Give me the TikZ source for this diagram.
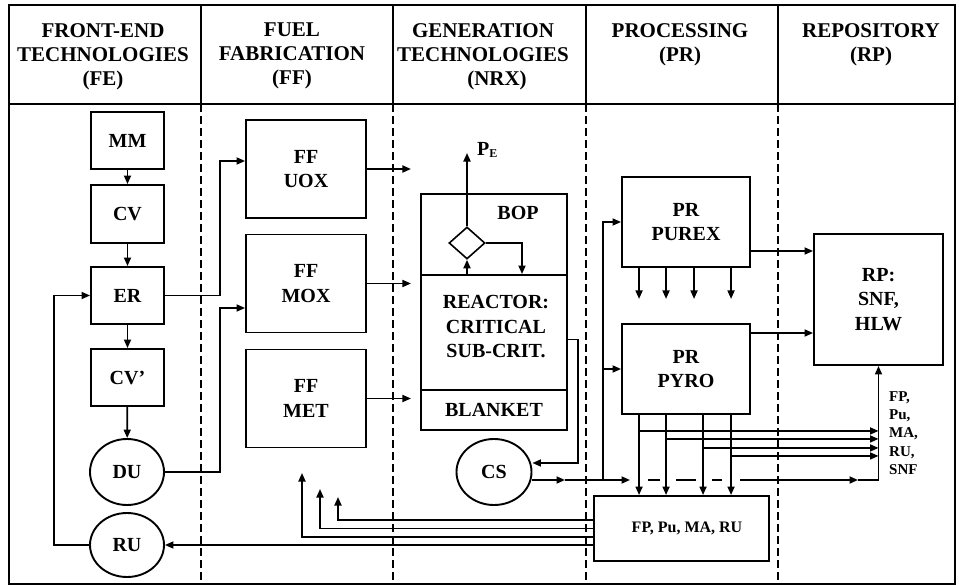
\documentclass[tikz,border=0pt]{standalone}
\usepackage{fontspec}
\setmainfont{Liberation Serif}
\usetikzlibrary{arrows.meta,shapes.geometric}

\tikzset{
  blk/.style={draw, line width=1.9pt, inner sep=0pt, align=center,
    font=\fontsize{20}{24.5}\selectfont\bfseries},
  febox/.style={blk, minimum width=73pt, minimum height=57pt},
  ffbox/.style={blk, minimum width=120pt, minimum height=98pt},
  prbox/.style={blk, minimum width=128pt, minimum height=90pt},
  ovl/.style={blk, ellipse, minimum width=74pt, minimum height=66pt},
  hdr/.style={anchor=north, inner sep=0pt, align=center,
    font=\fontsize{21}{24}\selectfont\bfseries},
  arr/.style={line width=1.7pt, -{Triangle[length=8.5pt,width=7pt]}},
  ln/.style={line width=1.7pt},
  sep/.style={line width=2pt, dash pattern=on 8pt off 4pt},
}

\begin{document}
\begin{tikzpicture}[x=1pt, y=-1pt]
        \useasboundingbox (0,0) rectangle (959,586);
        \draw[line width=1.8pt] (9,5) rectangle (955,584);
        \draw[line width=1.8pt] (9,104) -- (955,104);
        \foreach \x in {201,393,586,778} {
          \draw[line width=2pt] (\x,5) -- (\x,104);
          \draw[sep] (\x,104) -- (\x,584);
        }

        \node[hdr] (hfe) at (103,23) {FRONT-END\\TECHNOLOGIES\\(FE)};
        \node[hdr] (hff) at (292,23) {FUEL\\FABRICATION\\(FF)};
        \node[hdr] (hnrx) at (483,23) {GENERATION\\TECHNOLOGIES\\\hspace*{28pt}(NRX)};
        \node[hdr] (hpr) at (680,23) {PROCESSING\\(PR)};
        \node[hdr] (hrp) at (871,23) {REPOSITORY\\(RP)};

        \node[febox] (mm) at (127.5,140.5) {MM};
        \node[febox, minimum height=58pt] (cv) at (127.5,214) {CV};
        \node[febox] (er) at (127.5,295.5) {ER};
        \node[febox] (cvp) at (127.5,377.5) {CV’};
        \node[ovl] (du) at (127,472) {DU};
        \node[ovl, minimum height=64pt] (ru) at (127,545) {RU};

        \node[ffbox] (uox) at (306,169) {FF\\UOX};
        \node[ffbox] (mox) at (306,283.5) {FF\\MOX};
        \node[ffbox] (met) at (306,398.5) {FF\\MET};

        \node[blk, minimum width=146pt, minimum height=81pt] (bop) at (494,234.5) {};
        \node[blk, minimum width=146pt, minimum height=115pt] (reac) at (494,332.5) {};
        \node[blk, minimum width=146pt, minimum height=40pt] (blnk) at (494,410) {BLANKET};
        \node[font=\fontsize{20}{24.5}\selectfont\bfseries, align=center, inner sep=0pt] (reaclbl) at (496,327) {REACTOR:\\CRITICAL\\SUB-CRIT.};
        \node[font=\fontsize{20}{24}\selectfont\bfseries, inner sep=0pt] (boplbl) at (518,213) {BOP};
        \node[draw, diamond, line width=1.6pt, minimum width=36pt, minimum height=32pt, inner sep=0pt] (dia) at (467,243) {};
        \coordinate (pe) at (467,153);
        \node[anchor=base west, inner sep=0pt, font=\fontsize{20}{24}\selectfont\bfseries] (pelbl) at (477,155) {P\raisebox{-2.5pt}{\fontsize{12}{12}\selectfont E}};
        \node[ovl, minimum width=75pt] (cs) at (494,472) {CS};

        \node[prbox] (purex) at (686,222) {PR\\PUREX};
        \node[prbox] (pyro) at (686,369) {PR\\PYRO};
        \node[blk, minimum width=129pt, minimum height=131pt] (rp) at (878.5,299.5) {RP:\\SNF,\\HLW};
        \node[blk, minimum width=175pt, minimum height=65pt] (fp) at (681.5,528.5) {};
        \node[font=\fontsize{16}{19}\selectfont\bfseries, inner sep=0pt] (fplbl) at (687,528) {FP, Pu, MA, RU};
        \node[anchor=west, inner sep=0pt, align=left, font=\fontsize{15}{18.3}\selectfont\bfseries] (outs) at (889,433) {FP,\\Pu,\\MA,\\RU,\\SNF};

        \draw[arr] (mm) -- (cv);
        \draw[arr] (cv) -- (er);
        \draw[arr] (er) -- (cvp);
        \draw[arr] (cvp) -- (du);
        \draw[arr] (ru.west) -- ++(-35,0) |- (er.west);
        \draw[arr] (er.east) -- ++(55,0) |- ([yshift=8pt]uox.west);
        \draw[arr] (du.east) -- ++(55,0) |- ([yshift=-24.5pt]mox.west);

        \draw[arr] (uox.east) -- ++(44,0);
        \draw[arr] (mox.east) -- ++(44,0);
        \draw[arr] (met.east) -- ++(44,0);

        \draw[arr] (reac.north -| dia) -- (dia.south);
        \draw[arr] (dia.north) -- (pe);
        \draw[arr] (dia.east) -| ([xshift=28pt]reac.north);
        \draw[arr] ([yshift=-7pt]reac.east) -- ++(10,0) |- ([yshift=9pt]cs.east);

        \coordinate (jn) at (603,480);
        \draw[arr] ([yshift=-8pt]cs.east) -- (565,480);
        \draw[ln] (565,480) -- (jn);
        \draw[arr] (jn) -- (630,480);
        \draw[arr] (jn) |- (purex.west);
        \draw[arr] (jn) |- (pyro.west);
        \foreach \xa/\xb in {648/660,676/696,712/722}
          \draw[ln] (\xa,480) -- (\xb,480);
        \draw[arr] (740,480) -- (858,480);
        \draw[arr] (858,480) -| (rp.south);

        \draw[arr] ([yshift=-29pt]purex.east) -- ([yshift=48.5pt]rp.west);
        \draw[arr] ([yshift=36pt]pyro.east) -- ([yshift=-33.5pt]rp.west);
        \foreach \dx in {18,45,73,110}
          \draw[arr] ([xshift=\dx pt]purex.south west) -- ++(0,31);
        \foreach \dx in {18,45,82,110}
          \draw[arr] ([xshift=\dx pt]pyro.south west) -- ([xshift=\dx pt]pyro.south west |- fp.north);
        \foreach \dx/\dy [count=\i] in {18/16,45/24,82/33,110/41} {
          \coordinate (tap\i) at ([xshift=\dx pt, yshift=-\dy pt]pyro.south west);
          \draw[arr] (tap\i) -- (tap\i -| rp.south);
        }

        \coordinate (ret1) at (302,473);
        \coordinate (ret2) at (320,489);
        \coordinate (ret3) at (338,497);
        \draw[arr] (fp.west |- ru.east) -- (ru.east);
        \draw[arr] ([yshift=-8.5pt]fp.west) -| (ret1);
        \draw[arr] (fp.west) -| (ret2);
        \draw[arr] ([yshift=8.5pt]fp.west) -| (ret3);
\end{tikzpicture}
\end{document}
